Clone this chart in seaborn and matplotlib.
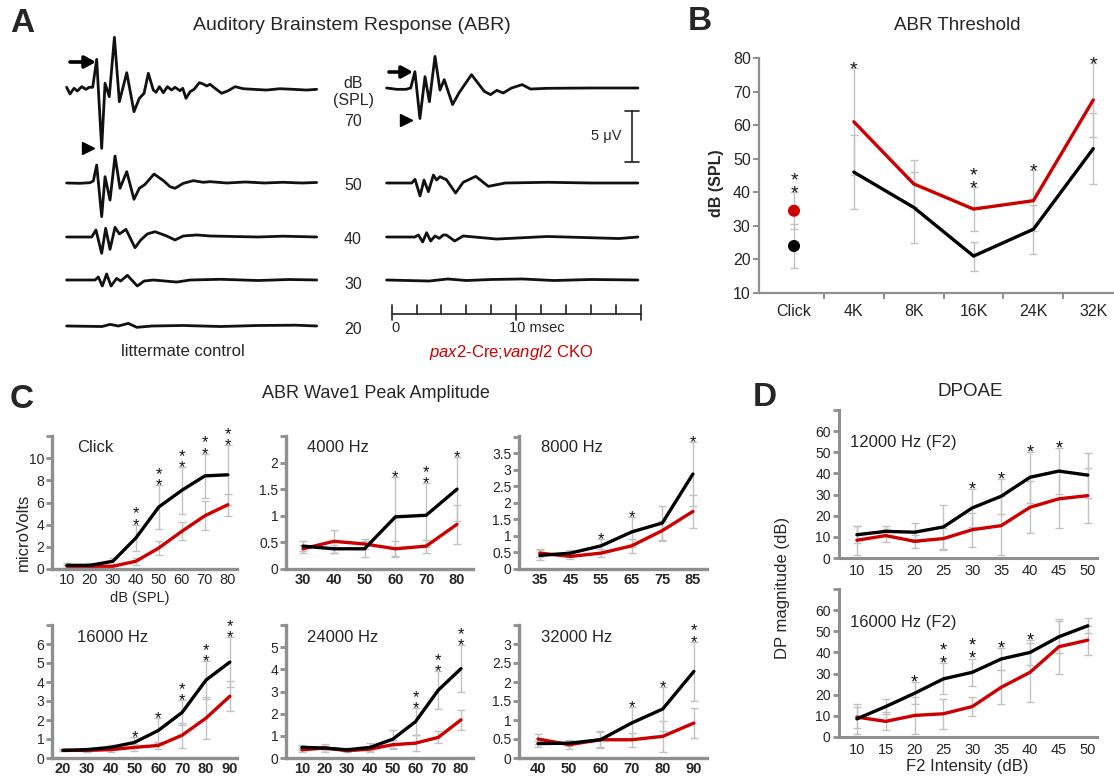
import numpy as np
import matplotlib
matplotlib.use('Agg')
import matplotlib.pyplot as plt
import seaborn as sns

sns.set_theme(style='white')
plt.rcParams['font.family'] = ['Liberation Sans', 'DejaVu Sans']
plt.rcParams['mathtext.fontset'] = 'custom'
plt.rcParams['mathtext.it'] = 'Liberation Sans:italic'
plt.rcParams['mathtext.rm'] = 'Liberation Sans'

# ---------------- DATA ----------------
# Panel A: ABR traces (time in ms, amplitude in microvolts, relative to baseline)
ctrl70_t = [-0.35,-0.08,0.24,0.51,0.86,1.2,1.47,1.74,2.06,2.46,2.73,3.07,3.48,3.88,4.47,5.05,5.48,5.86,6.2,6.6,6.82,7.09,7.41,7.73,8.07,8.34,8.74,8.96,9.22,9.55,9.87,10.29,10.61,10.88,11.15,11.55,12.08,12.62,13.15,13.82,14.62,15.69,16.76,17.83,18.9,19.7]
ctrl70_v = [0.07,-0.59,-0.03,-0.29,0.13,-0.13,0.07,0.07,2.81,-5.92,0.46,-0.85,4.97,-1.34,1.5,-2.32,-1.01,-0.52,1.44,-0.2,-0.42,0.13,-0.46,0.13,-0.2,0.07,-0.26,-0.03,-1.01,-0.36,-0.13,0.52,0.39,0.2,0.36,-0.03,-0.52,-0.26,0.13,-0.07,-0.13,-0.2,-0.07,-0.13,-0.2,-0.13]
ctrl50_t = [-0.35,0.72,1.52,1.79,2.06,2.46,2.73,3.13,3.53,3.93,4.47,5.05,5.48,5.94,6.66,7.41,7.94,8.34,9.01,9.81,10.61,11.15,12.5,14.0,15.5,17.0,18.5,19.7]
ctrl50_v = [0,-0.03,0.03,0.2,1.76,-3.3,0.62,-1.67,2.65,-0.52,1.11,-1.6,-0.52,-0.13,0.88,0.23,-0.36,-0.52,-0.03,0.23,0.07,0.13,0.0,0.1,0.0,0.07,0.0,0.05]
ctrl40_t = [-0.35,1.66,2.0,2.46,2.78,3.13,3.53,3.88,4.41,5.13,5.59,6.12,6.74,7.67,8.34,9.01,10.08,11.15,13.0,15.0,17.0,19.7]
ctrl40_v = [0,0,0.69,-1.6,0.85,-1.21,0.95,0.3,0.75,-1.05,-0.3,0.3,0.52,0.1,-0.29,0.1,0.2,0.1,0.05,0.0,0.08,0.0]
ctrl30_t = [-0.35,1.93,2.19,2.51,2.86,3.21,3.66,3.98,4.52,5.32,5.86,6.6,8.48,9.55,12.0,15.0,17.5,19.7]
ctrl30_v = [0,0,0.3,-0.59,0.59,-0.59,0.16,-0.1,0.46,-0.59,-0.1,0,-0.2,0,0.07,-0.05,0.05,0]
ctrl20_t = [-0.35,2.5,3.13,3.8,4.6,5.27,6.5,9.0,12.0,15.0,18.0,19.7]
ctrl20_v = [0,-0.05,0.16,0.0,0.26,-0.13,0.0,0.05,-0.05,0.05,0.08,0]
cko70_t = [-0.4,0.41,1.16,1.53,1.87,2.27,2.68,3.03,3.48,3.88,4.22,4.89,5.4,6.41,7.43,7.93,8.44,8.95,9.62,10.47,11.14,12.49,15.87,19.75]
cko70_v = [0,-0.13,-0.13,0,1.6,-2.99,1.11,-1.34,3.1,-0.2,0.82,-1.63,-0.49,1.31,-0.33,-0.65,-0.23,-0.49,0,0.33,-0.1,-0.03,0,0]
cko50_t = [-0.4,1.61,1.88,2.28,2.6,2.95,3.35,3.61,3.88,4.39,5.13,5.74,6.75,7.76,9.12,12.5,16.0,19.75]
cko50_v = [0,0,0.36,-1.27,0.29,-0.85,0.78,0.29,0.62,0.33,-0.98,0.07,0.65,-0.33,0,0.07,0.0,0]
cko40_t = [-0.4,1.88,2.15,2.49,2.81,3.13,3.48,3.83,4.15,4.39,5.06,5.74,8.44,12.5,18.24,19.75]
cko40_v = [0,0,0.2,-0.49,0.42,-0.39,0.1,-0.13,0.2,0.2,-0.39,0.1,-0.2,0.05,-0.15,0]
cko30_t = [-0.4,3.0,4.5,6.0,8.0,10.5,13.0,16.0,19.75]
cko30_v = [0,-0.1,0.1,-0.05,0.05,0.1,-0.05,0.05,0]
level_labels = ['70', '50', '40', '30', '20']
time_ticks_ms = list(range(0, 21, 2))
scale_bar_uv = 5

# Panel B: ABR threshold
b_cats = ['Click', '4K', '8K', '16K', '24K', '32K']
b_black = [24, 46, 35.5, 21, 29, 53]
b_black_err = [6.5, 11, 10.5, 4.3, 7.3, 10.5]
b_red = [34.5, 61, 42.5, 35, 37.5, 67.5]
b_red_err = [5.5, 16, 7, 6.5, 9, 11]
b_stars = [2, 1, 0, 2, 1, 1]

# Panel C: wave 1 amplitude
click_x = [10, 20, 30, 40, 50, 60, 70, 80]
click_black = [0.33, 0.33, 0.7, 2.8, 5.6, 7.1, 8.4, 8.5]
click_black_err = [0.2, 0.2, 0.3, 1.2, 1.95, 2.1, 2.0, 2.7]
click_red = [0.25, 0.25, 0.25, 0.7, 1.9, 3.4, 4.8, 5.8]
click_red_err = [0.15, 0.15, 0.15, 0.3, 0.6, 0.8, 1.3, 1.0]
click_stars = [0, 0, 0, 2, 2, 2, 2, 2]

f4k_x = [30, 40, 50, 60, 70, 80]
f4k_black = [0.43, 0.38, 0.38, 0.98, 1.01, 1.5]
f4k_black_err = [0.1, 0.08, 0.15, 0.75, 0.6, 0.6]
f4k_red = [0.38, 0.52, 0.47, 0.38, 0.43, 0.84]
f4k_red_err = [0.07, 0.22, 0.1, 0.14, 0.12, 0.37]
f4k_stars = [0, 0, 0, 1, 2, 1]

f8k_x = [35, 45, 55, 65, 75, 85]
f8k_black = [0.41, 0.48, 0.7, 1.12, 1.39, 2.87]
f8k_black_err = [0.15, 0.1, 0.2, 0.44, 0.52, 0.98]
f8k_red = [0.48, 0.38, 0.48, 0.7, 1.16, 1.74]
f8k_red_err = [0.13, 0.08, 0.13, 0.22, 0.3, 0.5]
f8k_stars = [0, 0, 1, 1, 0, 1]

f16k_x = [20, 30, 40, 50, 60, 70, 80, 90]
f16k_black = [0.4, 0.44, 0.56, 0.82, 1.45, 2.4, 4.1, 5.05]
f16k_black_err = [0.05, 0.1, 0.15, 0.3, 0.68, 0.65, 1.0, 1.3]
f16k_red = [0.4, 0.4, 0.44, 0.56, 0.66, 1.2, 2.1, 3.25]
f16k_red_err = [0.05, 0.08, 0.15, 0.2, 0.2, 0.65, 1.1, 0.8]
f16k_stars = [0, 0, 0, 1, 1, 2, 2, 2]

f24k_x = [10, 20, 30, 40, 50, 60, 70, 80]
f24k_black = [0.48, 0.45, 0.37, 0.48, 0.85, 1.64, 3.06, 4.03]
f24k_black_err = [0.1, 0.2, 0.1, 0.2, 0.4, 0.6, 0.85, 1.05]
f24k_red = [0.37, 0.45, 0.33, 0.4, 0.6, 0.67, 0.93, 1.72]
f24k_red_err = [0.08, 0.1, 0.08, 0.1, 0.2, 0.35, 0.27, 0.45]
f24k_stars = [0, 0, 0, 0, 0, 2, 2, 2]

f32k_x = [40, 50, 60, 70, 80, 90]
f32k_black = [0.38, 0.39, 0.48, 0.92, 1.29, 2.28]
f32k_black_err = [0.08, 0.08, 0.2, 0.43, 0.57, 0.78]
f32k_red = [0.5, 0.35, 0.48, 0.48, 0.57, 0.92]
f32k_red_err = [0.12, 0.1, 0.22, 0.18, 0.4, 0.4]
f32k_stars = [0, 0, 0, 1, 1, 2]

# Panel D: DPOAE
d_x = [10, 15, 20, 25, 30, 35, 40, 45, 50]
d12_black = [11, 12.6, 12.2, 14.7, 23.7, 29.2, 38.2, 41.1, 39.2]
d12_black_err = [4, 2.4, 4.4, 10.6, 9, 8.2, 12, 10.7, 10.6]
d12_red = [8.4, 10.6, 7.9, 9.2, 13.4, 15.3, 24, 28, 29.5]
d12_red_err = [6.8, 3, 3.2, 5.2, 8, 14, 12.2, 13.8, 13]
d12_stars = [0, 0, 0, 0, 1, 1, 1, 1, 0]
d16_black = [8.6, 14.4, 20.7, 27.5, 30.6, 36.9, 40, 47.4, 52.6]
d16_black_err = [7, 3.6, 5.2, 7.3, 6.5, 5, 6, 7.6, 3.6]
d16_red = [9.4, 7.4, 10.2, 11, 14.4, 23.5, 30.6, 42.7, 45.8]
d16_red_err = [5, 4.3, 8.6, 7, 4.5, 8, 14, 12.9, 6.9]
d16_stars = [0, 0, 1, 2, 2, 1, 1, 0, 0]

# ---------------- STYLE ----------------
W, H = 1114, 778
fig = plt.figure(figsize=(W / 100, H / 100), dpi=100)
RED = '#cc0000'
ERR = '#c2c2c2'
SPINE = '#8f8f8f'
LETTER = dict(fontweight='bold', family=['Liberation Sans Narrow', 'Liberation Sans', 'DejaVu Sans'])


def add_ax(l, t, r, b):
    return fig.add_axes([l / W, 1 - b / H, (r - l) / W, (b - t) / H])


def ptext(x, y, s, size, ha='center', va='center', **kw):
    fig.text(x / W, 1 - y / H, s, fontsize=size, ha=ha, va=va, **kw)


def draw_stars(ax, xs, tops, counts, fs, gap_px, step_px):
    em = fs * 100 / 72
    ls = step_px / (0.73 * em)
    for x, top, c in zip(xs, tops, counts):
        if c == 0:
            continue
        off_px = gap_px - 0.79 * em
        ax.annotate('\n'.join(['*'] * c), (x, top), xytext=(0, off_px * 0.72),
                    textcoords='offset points', ha='center', va='bottom', fontsize=fs,
                    linespacing=ls, color='#111111', annotation_clip=False)


def series(ax, x, black, berr, red, rerr, lw=2.4, capsize=3):
    x = np.asarray(x, float)
    ax.errorbar(x, red, yerr=rerr, fmt='none', ecolor=ERR, elinewidth=1, capsize=capsize,
                capthick=1, zorder=1)
    ax.errorbar(x, black, yerr=berr, fmt='none', ecolor=ERR, elinewidth=1, capsize=capsize,
                capthick=1, zorder=1)
    sns.lineplot(x=x, y=np.asarray(red, float), ax=ax, color=RED, lw=lw, zorder=3,
                 estimator=None, legend=False)
    sns.lineplot(x=x, y=np.asarray(black, float), ax=ax, color='black', lw=lw, zorder=4,
                 estimator=None, legend=False)


def style_spines(ax, lw):
    for s in ['top', 'right']:
        ax.spines[s].set_visible(False)
    for s in ['left', 'bottom']:
        ax.spines[s].set_color(SPINE)
        ax.spines[s].set_linewidth(lw)


# ---------------- PANEL A ----------------
axA = add_ax(40, 30, 660, 345)
PX_MS, PX_UV, X0, Y0 = 12.47, 10.2, 71.0, 88.0
axA.set_xlim((40 - X0) / PX_MS, (660 - X0) / PX_MS)
axA.set_ylim((Y0 - 345) / PX_UV, (Y0 - 30) / PX_UV)
axA.axis('off')
shift = (391.6 - X0) / PX_MS
row_px = [88, 183, 237, 280, 326]


def pA(x, y):
    return ((x - X0) / PX_MS, (Y0 - y) / PX_UV)


ctrl = [(ctrl70_t, ctrl70_v), (ctrl50_t, ctrl50_v), (ctrl40_t, ctrl40_v),
        (ctrl30_t, ctrl30_v), (ctrl20_t, ctrl20_v)]
cko = [(cko70_t, cko70_v), (cko50_t, cko50_v), (cko40_t, cko40_v), (cko30_t, cko30_v)]
for i, (t, v) in enumerate(ctrl):
    off = (Y0 - row_px[i]) / PX_UV
    sns.lineplot(x=np.asarray(t), y=np.asarray(v) + off, ax=axA, color='#111111', lw=2.0,
                 estimator=None, sort=False, legend=False)
for i, (t, v) in enumerate(cko):
    off = (Y0 - row_px[i]) / PX_UV
    sns.lineplot(x=np.asarray(t) + shift, y=np.asarray(v) + off, ax=axA, color='#111111',
                 lw=2.0, estimator=None, sort=False, legend=False)

# time axis
ya = (Y0 - 314) / PX_UV
axA.plot([shift, shift + time_ticks_ms[-1]], [ya, ya], color='#222222', lw=1.2)
for ms in time_ticks_ms:
    top = (Y0 - 305) / PX_UV
    bot = (Y0 - 320) / PX_UV if ms % 10 == 0 else ya
    axA.plot([shift + ms, shift + ms], [bot, top], color='#222222', lw=1.2)
ptext(395, 328, '0', 10.5)
ptext(537, 328, '10 msec', 10.5)

# scale bar
sx, sy = pA(632, 111)
axA.plot([sx, sx], [sy, sy - scale_bar_uv], color='#222222', lw=1.2)
for yy in (sy, sy - scale_bar_uv):
    axA.plot([sx - 0.6, sx + 0.6], [yy, yy], color='#222222', lw=1.2)
ptext(606, 136, '5 μV', 10.5)

# arrows and arrowheads
for (x0, x1, y) in [(70, 96, 62), (389, 413, 72)]:
    axA.annotate('', xy=pA(x1, y), xytext=pA(x0, y),
                 arrowprops=dict(arrowstyle='-|>,head_length=0.55,head_width=0.3', lw=2.6,
                                 color='black', shrinkA=0, shrinkB=0), annotation_clip=False)
for (x, y) in [(88, 147.5), (406, 120)]:
    axA.plot(*pA(x, y), marker='>', color='black', ms=9, clip_on=False)

ptext(353, 83, 'dB', 11.5)
ptext(353, 100, '(SPL)', 11.5)
for lab_s, yy in zip(level_labels, [122, 185, 240, 284, 329]):
    ptext(353, yy, lab_s, 11.5)
ptext(183, 351, 'littermate control', 12)
ptext(511, 352, r'$\mathit{pax2}$-Cre;$\mathit{vangl2}$ CKO', 12, color=RED)
ptext(352, 25, 'Auditory Brainstem Response (ABR)', 14)
ptext(22, 24, 'A', 24, **LETTER)

# ---------------- PANEL B ----------------
axB = add_ax(759, 58, 1113, 293)
xi = np.arange(len(b_cats))
axB.errorbar(xi, b_red, yerr=b_red_err, fmt='none', ecolor=ERR, elinewidth=1, capsize=3, zorder=1)
axB.errorbar(xi, b_black, yerr=b_black_err, fmt='none', ecolor=ERR, elinewidth=1, capsize=3, zorder=1)
sns.lineplot(x=xi[1:], y=np.asarray(b_red[1:], float), ax=axB, color=RED, lw=2.4,
             estimator=None, legend=False, zorder=3)
sns.lineplot(x=xi[1:], y=np.asarray(b_black[1:], float), ax=axB, color='black', lw=2.4,
             estimator=None, legend=False, zorder=4)
sns.scatterplot(x=[xi[0]], y=[b_red[0]], ax=axB, color=RED, s=75, edgecolor='none', zorder=5)
sns.scatterplot(x=[xi[0]], y=[b_black[0]], ax=axB, color='black', s=75, edgecolor='none', zorder=5)
axB.set_xlim(-0.585, 5.33)
axB.set_ylim(10, 80)
axB.set_yticks(range(10, 81, 10))
axB.set_xticks(xi)
axB.set_xticklabels(b_cats)
axB.set_xticks(xi[:-1] + 0.5, minor=True)
style_spines(axB, 1.6)
axB.tick_params(axis='y', which='major', direction='out', length=4, width=1.4, color=SPINE,
                labelsize=11.5, pad=2, left=True)
axB.tick_params(axis='x', which='major', length=0, labelsize=11.5, pad=8)
axB.tick_params(axis='x', which='minor', direction='out', length=4, width=1.4, color=SPINE,
                bottom=True)
axB.set_xlabel('')
axB.set_ylabel('')
tops = np.maximum(np.add(b_black, b_black_err), np.add(b_red, b_red_err))
draw_stars(axB, xi, tops, b_stars, 14, 5, 10.5)
ptext(717, 183, 'dB (SPL)', 11.5, rotation=90, fontweight='bold')
ptext(957, 25, 'ABR Threshold', 13.5)
ptext(700, 22, 'B', 24, **LETTER)

# ---------------- PANEL C ----------------
def lab(vals):
    out = ['%g' % v for v in vals]
    out[-1] = ''
    return out


def panelC(box, x, black, berr, red, rerr, stars, ylim, yticks, xlim, bold, title, tpos):
    ax = add_ax(*box)
    series(ax, x, black, berr, red, rerr)
    ax.set_xlim(*xlim)
    ax.set_ylim(*ylim)
    ax.set_yticks(yticks)
    ax.set_yticklabels(lab(yticks))
    ax.set_xticks(x)
    ax.set_xticklabels([str(v) for v in x], fontweight='bold' if bold else 'normal')
    style_spines(ax, 2.4)
    ax.tick_params(axis='y', direction='out', length=4, width=2, color=SPINE, labelsize=10,
                   pad=1.5, left=True)
    ax.tick_params(axis='x', length=0, labelsize=10.5, pad=3)
    ax.set_xlabel('')
    ax.set_ylabel('')
    t = np.maximum(np.add(black, berr), np.add(red, rerr))
    draw_stars(ax, x, t, stars, 12, 5, 8.5)
    ptext(tpos[0], tpos[1], title, 12, ha='left')
    return ax


panelC((52, 436, 237, 569), click_x, click_black, click_black_err, click_red, click_red_err,
       click_stars, (0, 12), list(range(0, 13, 2)), (3.5, 84), False, 'Click', (77, 448))
panelC((286, 436, 473, 569), f4k_x, f4k_black, f4k_black_err, f4k_red, f4k_red_err,
       f4k_stars, (0, 2.5), list(np.arange(0, 2.51, 0.5)), (24.5, 85.2), True,
       '4000 Hz', (307, 448))
panelC((519, 436, 707, 569), f8k_x, f8k_black, f8k_black_err, f8k_red, f8k_red_err,
       f8k_stars, (0, 4.02), list(np.arange(0, 4.01, 0.5)), (28.2, 89.6), True,
       '8000 Hz', (541, 448))
panelC((52, 625, 237, 758), f16k_x, f16k_black, f16k_black_err, f16k_red, f16k_red_err,
       f16k_stars, (0, 7), list(range(0, 8)), (15.4, 93), True, '16000 Hz', (77, 637))
panelC((286, 625, 473, 758), f24k_x, f24k_black, f24k_black_err, f24k_red, f24k_red_err,
       f24k_stars, (0, 6), list(range(0, 7)), (3, 85.3), True, '24000 Hz', (307, 637))
panelC((519, 625, 707, 758), f32k_x, f32k_black, f32k_black_err, f32k_red, f32k_red_err,
       f32k_stars, (0, 3.5), list(np.arange(0, 3.51, 0.5)), (33.9, 94.2), True,
       '32000 Hz', (541, 637))
ptext(23, 532, 'microVolts', 12, rotation=90)
ptext(140, 598, 'dB (SPL)', 10.5)
ptext(376, 393, 'ABR Wave1 Peak Amplitude', 13)
ptext(22, 400, 'C', 24, **LETTER)

# ---------------- PANEL D ----------------
def panelD(box, black, berr, red, rerr, stars, title, tpos):
    ax = add_ax(*box)
    series(ax, d_x, black, berr, red, rerr)
    ax.set_xlim(6.9, 51.6)
    ax.set_ylim(0, 70)
    ax.set_yticks(range(0, 71, 10))
    ax.set_yticklabels(lab(range(0, 71, 10)))
    ax.set_xticks(d_x)
    ax.set_xticklabels([str(v) for v in d_x])
    style_spines(ax, 2.2)
    ax.tick_params(axis='y', direction='out', length=4, width=2, color=SPINE, labelsize=10,
                   pad=2, left=True)
    ax.tick_params(axis='x', length=0, labelsize=10.5, pad=4)
    ax.set_xlabel('')
    ax.set_ylabel('')
    t = np.maximum(np.add(black, berr), np.add(red, rerr))
    draw_stars(ax, d_x, t, stars, 13, 5, 9)
    ptext(tpos[0], tpos[1], title, 12, ha='left')
    return ax


panelD((839, 410, 1097, 558), d12_black, d12_black_err, d12_red, d12_red_err, d12_stars,
       '12000 Hz (F2)', (850, 443))
panelD((839, 589, 1097, 737), d16_black, d16_black_err, d16_red, d16_red_err, d16_stars,
       '16000 Hz (F2)', (850, 623))
ptext(783, 588, 'DP magnitude (dB)', 12, rotation=90)
ptext(967, 767, 'F2 Intensity (dB)', 12)
ptext(970, 392, 'DPOAE', 13.5)
ptext(765, 398, 'D', 24, **LETTER)

fig.savefig('out.png', dpi=100)
